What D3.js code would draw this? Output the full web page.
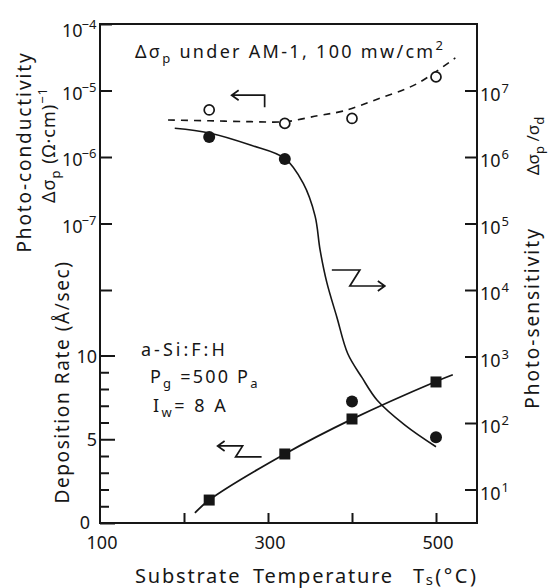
<!DOCTYPE html>
<html>
<head>
<meta charset="utf-8">
<script src="https://cdn.jsdelivr.net/npm/d3@7"></script>
<style>
  body { margin: 0; background: #fff; }
  text { font-family: "Noto Sans", sans-serif; fill: #161616; }
</style>
</head>
<body>
<div id="chart"></div>
<script>
// measured points (substrate temperature in degC)
var temps = [230, 320, 400, 500];
var photoCond = [5.1e-6, 3.2e-6, 3.8e-6, 1.6e-5];   // open circles, left log axis
var photoSens = [2.0e6, 9.3e5, 2.1e2, 61];          // filled circles, right log axis
var depRate = [1.37, 4.12, 6.21, 8.42];             // squares, left linear axis

// hand drawn fit curves
var condFitT = [181, 230, 280, 321, 360, 389, 430, 477, 523];
var condFitV = [3.6e-6, 3.5e-6, 3.4e-6, 3.4e-6, 4.2e-6, 4.9e-6, 7.4e-6, 1.26e-5, 3.1e-5];
var sensFitT = [189, 230, 280, 320, 342, 356, 362, 370, 382, 395, 412, 430, 463, 500];
var sensFitV = [2.7e6, 2.3e6, 1.5e6, 9.5e5, 4e5, 1.3e5, 4e4, 1.3e4, 3.9e3, 1.1e3, 4.8e2, 2.2e2, 93, 44];
var depFitT = [213, 230, 320, 400, 500, 520];
var depFitV = [0.6, 1.37, 4.12, 6.2, 8.45, 8.85];

// ticks
var xTicks = [200, 300, 400, 500];
var xLabels = [100, 300, 500];
var condExp = [-4, -5, -6, -7, -8];
var condLabelExp = [-4, -5, -6, -7];
var rateTicks = d3.range(0, 11);
var rateLabels = [0, 5, 10];
var sensExp = [1, 2, 3, 4, 5, 6, 7];

var svgWidth = 554;
var svgHeight = 588;
var box = { left: 100, right: 477, top: 24, bottom: 523 };

var svg = d3.select("#chart")
    .append("svg")
    .attr("width", svgWidth)
    .attr("height", svgHeight);

// scales
var x = d3.scaleLinear().domain([100, 550]).range([box.left, box.right + 1]);
var yCond = d3.scaleLog().domain([1e-8, 1e-4]).range([290, box.top]);
var yRate = d3.scaleLinear().domain([0, 10]).range([box.bottom, 355.5]);
var ySens = d3.scaleLog().domain([10, 1e8]).range([489.5, box.top]);

// small helper for sub / superscripts
function rich(sel, parts) {
    var shift = 0;
    parts.forEach(function (p) {
        var t = sel.append("tspan").text(p[0]);
        var target = p[1] === "sup" ? -8 : p[1] === "sub" ? 5 : p[1] === "low" ? 2 : 0;
        t.attr("dy", target - shift);
        if (p[1]) t.attr("font-size", p[2] || 12);
        if (p[3]) t.attr("dx", p[3]);
        shift = target;
    });
    return sel;
}

var ink = "#161616";

// frame
svg.append("rect")
    .attr("x", box.left).attr("y", box.top)
    .attr("width", box.right - box.left).attr("height", box.bottom - box.top)
    .attr("fill", "none").attr("stroke", ink).attr("stroke-width", 2);

// left log ticks
svg.append("g")
    .attr("transform", `translate(${box.left},0)`)
    .call(d3.axisRight(yCond).tickValues(condExp.map(e => Math.pow(10, e))).tickSize(12).tickFormat(""))
    .call(g => g.select(".domain").remove())
    .call(g => g.selectAll("line").attr("stroke", ink).attr("stroke-width", 2));

condLabelExp.forEach(function (e) {
    var ty = yCond(Math.pow(10, e));
    var t = svg.append("text")
        .attr("x", 62)
        .attr("y", ty + (e === -4 ? 13 : 9))
        .attr("font-size", 18);
    rich(t, [["10"], ["−" + (-e), "sup", 13, -1]]);
});

// left linear ticks (deposition rate)
svg.append("g")
    .attr("transform", `translate(${box.left},0)`)
    .call(d3.axisRight(yRate).tickValues(rateTicks).tickSize(9).tickFormat(""))
    .call(g => g.select(".domain").remove())
    .call(g => g.selectAll(".tick line")
        .attr("x2", d => d % 5 === 0 ? 15 : 9)
        .attr("stroke", ink).attr("stroke-width", 2));

rateLabels.forEach(function (v) {
    svg.append("text")
        .attr("x", v === 0 ? 90 : 97)
        .attr("y", yRate(v) + (v === 0 ? 6 : 7))
        .attr("text-anchor", "end")
        .attr("font-size", 18)
        .text(v);
});

// right log ticks
svg.append("g")
    .attr("transform", `translate(${box.right},0)`)
    .call(d3.axisLeft(ySens).tickValues(sensExp.map(e => Math.pow(10, e))).tickSize(12).tickFormat(""))
    .call(g => g.select(".domain").remove())
    .call(g => g.selectAll("line").attr("stroke", ink).attr("stroke-width", 2));

sensExp.forEach(function (e) {
    var t = svg.append("text")
        .attr("x", 480)
        .attr("y", ySens(Math.pow(10, e)) + 10)
        .attr("font-size", 18);
    rich(t, [["10"], [String(e), "sup", 13, 1]]);
});

// x ticks
svg.append("g")
    .attr("transform", `translate(0,${box.bottom})`)
    .call(d3.axisTop(x).tickValues(xTicks).tickSize(10).tickFormat(""))
    .call(g => g.select(".domain").remove())
    .call(g => g.selectAll("line").attr("stroke", ink).attr("stroke-width", 2));

xLabels.forEach(function (v) {
    svg.append("text")
        .attr("x", x(v) + 2)
        .attr("y", 549)
        .attr("text-anchor", "middle")
        .attr("font-size", 18)
        .text(v);
});

// axis titles
svg.append("text")
    .attr("transform", "translate(31,152) rotate(-90)")
    .attr("text-anchor", "middle").attr("font-size", 19)
    .attr("letter-spacing", 1.9)
    .text("Photo-conductivity");

var t2 = svg.append("text")
    .attr("transform", "translate(55,145) rotate(-90)")
    .attr("text-anchor", "middle").attr("font-size", 18)
    .attr("letter-spacing", 1);
rich(t2, [["Δσ"], ["p", "sub", 13], [" (Ω·cm)"], ["−1", "sup", 13]]);

svg.append("text")
    .attr("transform", "translate(69,382) rotate(-90)")
    .attr("text-anchor", "middle").attr("font-size", 19)
    .attr("letter-spacing", 1.6)
    .text("Deposition Rate (Å/sec)");

var t3 = svg.append("text")
    .attr("transform", "translate(539,146) rotate(-90)")
    .attr("text-anchor", "middle").attr("font-size", 17);
rich(t3, [["Δσ"], ["p", "sub", 13], [" /σ"], ["d", "sub", 13]]);

svg.append("text")
    .attr("transform", "translate(539,318) rotate(-90)")
    .attr("text-anchor", "middle").attr("font-size", 19)
    .attr("letter-spacing", 2)
    .text("Photo-sensitivity");

var xt = svg.append("text").attr("y", 583).attr("font-size", 20).attr("letter-spacing", 1.8);
xt.append("tspan").attr("x", 135).text("Substrate");
xt.append("tspan").attr("x", 253).text("Temperature");
var xt2 = svg.append("text").attr("x", 413).attr("y", 583).attr("font-size", 20).attr("letter-spacing", 2.5);
rich(xt2, [["T"], ["s", "low", 15, -1], ["(°C)"]]);

// title inside plot
var tt = svg.append("text").attr("x", 135).attr("y", 58).attr("font-size", 18).attr("letter-spacing", 2.3);
rich(tt, [["Δσ"], ["p", "sub", 13], [" under  AM-1, 100 mw/cm"], ["2", "sup", 13]]);

// sample conditions
svg.append("text").attr("x", 141).attr("y", 356).attr("font-size", 18)
    .attr("letter-spacing", 3).text("a-Si:F:H");
var pg = svg.append("text").attr("x", 150).attr("y", 383).attr("font-size", 18).attr("letter-spacing", 2.2);
rich(pg, [["P"], ["g", "sub", 13], [" =500 P"], ["a", "sub", 13]]);
var iw = svg.append("text").attr("x", 153).attr("y", 412).attr("font-size", 18).attr("letter-spacing", 2.5);
rich(iw, [["I"], ["w", "sub", 13], ["= 8 A"]]);

// fit curves
var condLine = d3.line()
    .x((d, i) => x(condFitT[i]))
    .y(d => yCond(d))
    .curve(d3.curveCatmullRom.alpha(0.5));
svg.append("path")
    .attr("d", condLine(condFitV))
    .attr("fill", "none").attr("stroke", ink).attr("stroke-width", 1.6)
    .attr("stroke-dasharray", "7,6");

var sensLine = d3.line()
    .x((d, i) => x(sensFitT[i]))
    .y(d => ySens(d))
    .curve(d3.curveCatmullRom.alpha(0.5));
svg.append("path")
    .attr("d", sensLine(sensFitV))
    .attr("fill", "none").attr("stroke", ink).attr("stroke-width", 1.6);

var depLine = d3.line()
    .x((d, i) => x(depFitT[i]))
    .y(d => yRate(d))
    .curve(d3.curveCatmullRom.alpha(0.5));
svg.append("path")
    .attr("d", depLine(depFitV))
    .attr("fill", "none").attr("stroke", ink).attr("stroke-width", 1.8);

// markers
svg.selectAll(".cond")
    .data(photoCond)
    .enter()
    .append("circle")
    .attr("cx", (d, i) => x(temps[i]))
    .attr("cy", d => yCond(d))
    .attr("r", 5)
    .attr("fill", "#fff").attr("stroke", ink).attr("stroke-width", 1.7);

svg.selectAll(".sens")
    .data(photoSens)
    .enter()
    .append("circle")
    .attr("cx", (d, i) => x(temps[i]))
    .attr("cy", d => ySens(d))
    .attr("r", 6)
    .attr("fill", ink);

svg.selectAll(".dep")
    .data(depRate)
    .enter()
    .append("rect")
    .attr("x", (d, i) => x(temps[i]) - 5.5)
    .attr("y", d => yRate(d) - 5.5)
    .attr("width", 11).attr("height", 11)
    .attr("fill", ink);

// arrows pointing to the axis each curve belongs to
function arrow(d) {
    svg.append("path").attr("d", d)
        .attr("fill", "none").attr("stroke", ink).attr("stroke-width", 1.7)
        .attr("stroke-linejoin", "miter");
}
var a1x = x(296), a1y = yCond(8.5e-6);
arrow(`M${a1x},${a1y + 12} V${a1y} H${a1x - 33} M${a1x - 26},${a1y - 5} L${a1x - 33},${a1y} L${a1x - 26},${a1y + 5}`);

var a2x = x(376), a2y = ySens(2e4);
arrow(`M${a2x},${a2y} H${a2x + 28} L${a2x + 18},${a2y + 16} H${a2x + 53} M${a2x + 46},${a2y + 11} L${a2x + 53},${a2y + 16} L${a2x + 46},${a2y + 21}`);

var a3x = x(240), a3y = yRate(4.6);
arrow(`M${a3x},${a3y} H${a3x + 25} L${a3x + 18},${a3y + 11} H${a3x + 44} M${a3x + 7},${a3y - 5} L${a3x},${a3y} L${a3x + 7},${a3y + 5}`);
</script>
</body>
</html>
